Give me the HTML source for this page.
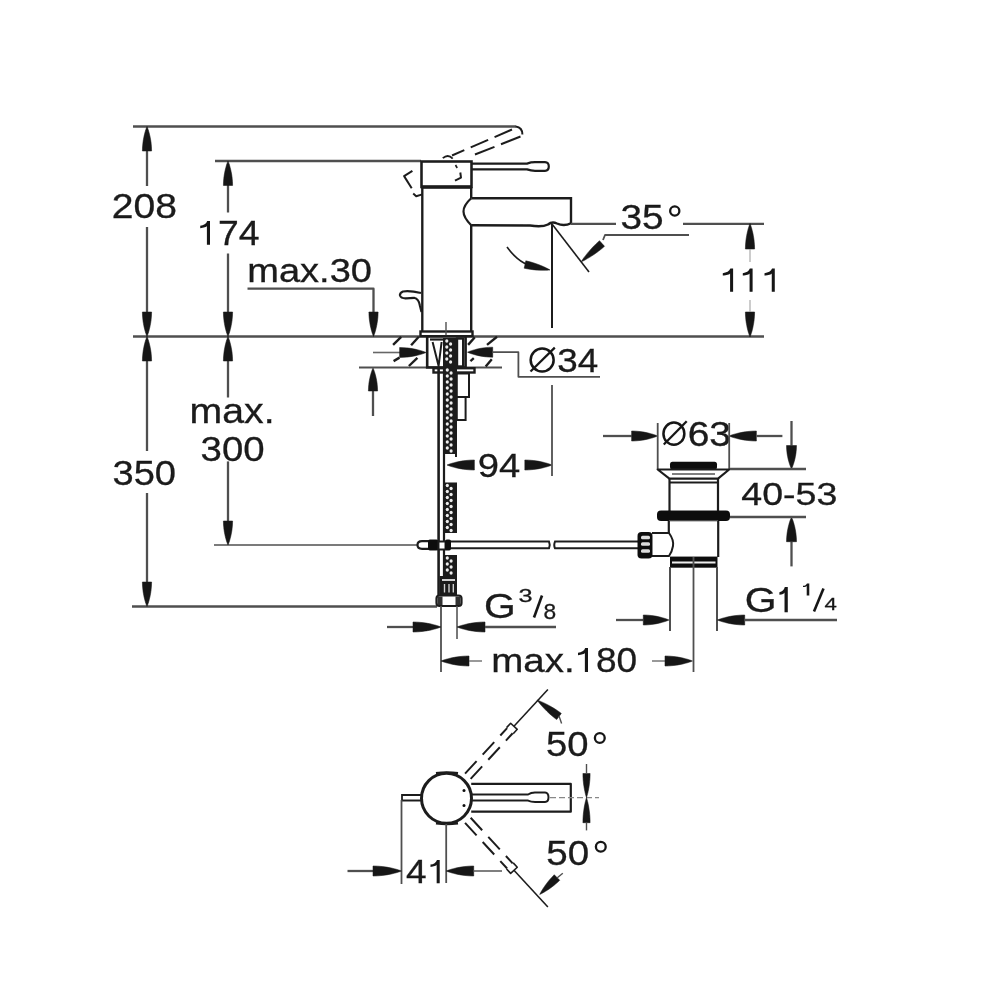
<!DOCTYPE html>
<html><head><meta charset="utf-8"><style>
html,body{margin:0;padding:0;background:#fff;}
svg{display:block;}
text{font-family:"Liberation Sans",sans-serif;}
</style></head><body>
<svg width="1000" height="1000" viewBox="0 0 1000 1000" stroke-linecap="butt">
<defs><filter id="soft" x="0" y="0" width="1000" height="1000" filterUnits="userSpaceOnUse"><feGaussianBlur stdDeviation="0.45"/></filter></defs>
<rect x="0" y="0" width="1000" height="1000" fill="#fff"/>
<g filter="url(#soft)">
<line x1="133" y1="126.5" x2="516" y2="126.5" stroke="#505050" stroke-width="2.3" />
<line x1="215" y1="161" x2="421" y2="161" stroke="#505050" stroke-width="2.3" />
<line x1="133" y1="336.5" x2="764" y2="336.5" stroke="#505050" stroke-width="2.3" />
<line x1="214" y1="545" x2="418" y2="545" stroke="#505050" stroke-width="1.5" />
<line x1="132" y1="606.5" x2="437" y2="606.5" stroke="#505050" stroke-width="2.3" />
<line x1="147" y1="130" x2="147" y2="186" stroke="#505050" stroke-width="2.3" />
<path d="M151.6,151 C151.6,139.97 148.61,130.18 147,126.5 C145.39,130.18 142.4,139.97 142.4,151 Z" fill="#141414" stroke="#141414" stroke-width="0.5" stroke-linejoin="round"/>
<line x1="147" y1="227" x2="147" y2="333" stroke="#505050" stroke-width="2.3" />
<path d="M142.4,312 C142.4,323.02 145.39,332.82 147,336.5 C148.61,332.82 151.6,323.02 151.6,312 Z" fill="#141414" stroke="#141414" stroke-width="0.5" stroke-linejoin="round"/>
<text transform="translate(111.84,218.25) scale(1.1197,1)" font-size="34.93" fill="#1a1a1a" stroke="#1a1a1a" stroke-width="0.3">208</text>
<line x1="228" y1="164" x2="228" y2="212.5" stroke="#505050" stroke-width="2.3" />
<path d="M232.6,185.5 C232.6,174.47 229.61,164.68 228,161 C226.39,164.68 223.4,174.47 223.4,185.5 Z" fill="#141414" stroke="#141414" stroke-width="0.5" stroke-linejoin="round"/>
<line x1="228" y1="253.5" x2="228" y2="333" stroke="#505050" stroke-width="2.3" />
<path d="M223.4,312 C223.4,323.02 226.39,332.82 228,336.5 C229.61,332.82 232.6,323.02 232.6,312 Z" fill="#141414" stroke="#141414" stroke-width="0.5" stroke-linejoin="round"/>
<path d="M210,244.8 L210,221 L207.21,221 C206.31,223.86 203.66,225.28 200.25,225.76 L200.25,228.14 C203.66,227.9 206.71,226.95 206.91,226 L206.91,244.8 Z" fill="#161616"/>
<text transform="translate(218.03,244.8) scale(1.0837,1)" font-size="34.49" fill="#1a1a1a" stroke="#1a1a1a" stroke-width="0.3">74</text>
<line x1="147" y1="340" x2="147" y2="451" stroke="#505050" stroke-width="2.3" />
<path d="M151.6,361 C151.6,349.98 148.61,340.18 147,336.5 C145.39,340.18 142.4,349.98 142.4,361 Z" fill="#141414" stroke="#141414" stroke-width="0.5" stroke-linejoin="round"/>
<line x1="147" y1="493" x2="147" y2="603" stroke="#505050" stroke-width="2.3" />
<path d="M142.4,582 C142.4,593.02 145.39,602.83 147,606.5 C148.61,602.83 151.6,593.02 151.6,582 Z" fill="#141414" stroke="#141414" stroke-width="0.5" stroke-linejoin="round"/>
<text transform="translate(112.48,484.65) scale(1.0822,1)" font-size="35.21" fill="#1a1a1a" stroke="#1a1a1a" stroke-width="0.3">350</text>
<line x1="228" y1="340" x2="228" y2="397.5" stroke="#505050" stroke-width="2.3" />
<path d="M232.6,361 C232.6,349.98 229.61,340.18 228,336.5 C226.39,340.18 223.4,349.98 223.4,361 Z" fill="#141414" stroke="#141414" stroke-width="0.5" stroke-linejoin="round"/>
<line x1="228" y1="461.4" x2="228" y2="542" stroke="#505050" stroke-width="2.3" />
<path d="M223.4,521 C223.4,531.8 226.39,541.4 228,545 C229.61,541.4 232.6,531.8 232.6,521 Z" fill="#141414" stroke="#141414" stroke-width="0.5" stroke-linejoin="round"/>
<text transform="translate(189.55,423.15) scale(1.1363,1)" font-size="34.55" fill="#1a1a1a" stroke="#1a1a1a" stroke-width="0.3">max.</text>
<text transform="translate(200.57,461.15) scale(1.0808,1)" font-size="35.49" fill="#1a1a1a" stroke="#1a1a1a" stroke-width="0.3">300</text>
<text transform="translate(247.28,281.87) scale(1.1639,1)" font-size="32.68" fill="#1a1a1a" stroke="#1a1a1a" stroke-width="0.3">max.30</text>
<path d="M247.5,288.7 L373.5,288.7 L373.5,330" stroke="#505050" stroke-width="2.3" fill="none" stroke-linejoin="round" />
<path d="M368.9,312 C368.9,323.02 371.89,332.82 373.5,336.5 C375.11,332.82 378.1,323.02 378.1,312 Z" fill="#141414" stroke="#141414" stroke-width="0.5" stroke-linejoin="round"/>
<line x1="373" y1="372" x2="373" y2="416" stroke="#505050" stroke-width="2.3" />
<path d="M377.6,391 C377.6,380.65 374.61,371.45 373,368 C371.39,371.45 368.4,380.65 368.4,391 Z" fill="#141414" stroke="#141414" stroke-width="0.5" stroke-linejoin="round"/>
<rect x="421.5" y="161.5" width="50" height="25.5" rx="0" stroke="#1e1e1e" stroke-width="2.6" fill="none" />
<line x1="421.5" y1="187" x2="471.5" y2="187" stroke="#1e1e1e" stroke-width="3.4" />
<path d="M471.5,163.6 L527,163.6 Q531,162.2 535,162.2 L545,162.2 Q548.8,162.4 548.8,166.5 Q548.8,170.6 545,170.8 L535,170.8 Q531,170.8 527,169.4 L471.5,169.4" stroke="#1e1e1e" stroke-width="2.2" fill="none" />
<path d="M515.7,126.5 Q522.5,127.5 522.4,134.5" stroke="#1e1e1e" stroke-width="2.0" fill="none" />
<line x1="512" y1="129.5" x2="452" y2="155.5" stroke="#1e1e1e" stroke-width="2.0" stroke-dasharray="19,7"/>
<line x1="520.5" y1="136.5" x2="470" y2="156.5" stroke="#1e1e1e" stroke-width="2.0" stroke-dasharray="21,7"/>
<path d="M442.8,158.2 Q448,153.5 452.7,158.6" stroke="#1e1e1e" stroke-width="1.8" fill="none" />
<path d="M412.4,170.8 L404.1,176.1 L411.7,188.3" stroke="#1e1e1e" stroke-width="2.0" fill="none" stroke-linejoin="round" />
<path d="M413.2,193.6 L416.2,196.3 L422.3,194.4" stroke="#1e1e1e" stroke-width="2.0" fill="none" stroke-linejoin="round" />
<path d="M460.3,172.5 L461,177.6 L455,180.7" stroke="#1e1e1e" stroke-width="2.0" fill="none" stroke-linejoin="round" />
<line x1="455.5" y1="165" x2="457.2" y2="168" stroke="#1e1e1e" stroke-width="1.6" />
<line x1="422.3" y1="187" x2="422.3" y2="331" stroke="#1e1e1e" stroke-width="2.4" />
<line x1="471.2" y1="187" x2="471.2" y2="198" stroke="#1e1e1e" stroke-width="2.4" />
<line x1="471.2" y1="225" x2="471.2" y2="331" stroke="#1e1e1e" stroke-width="2.4" />
<path d="M471.2,198.2 L571,198.2 L571,223.2 Q564,226.8 557,223.5 Q552,221 548,224.5 Q542,227.5 530,225.5 L471.2,225.2" stroke="#1e1e1e" stroke-width="2.4" fill="none" />
<path d="M471.2,198.2 C467,202 463.5,206 463.5,211.5 C463.5,217 467,221 471.2,225.2" stroke="#1e1e1e" stroke-width="2.2" fill="none" />
<path d="M421,293 Q410,290.5 403,291.5 Q399.5,293 400,295.5 Q401,298.5 406,298.3 L414,297.8 Q419,299 420,306 L421.5,312" stroke="#1e1e1e" stroke-width="2.2" fill="none" />
<rect x="420.5" y="331.5" width="52" height="4.7" rx="0" stroke="#1e1e1e" stroke-width="2.4" fill="#fff" />
<line x1="446" y1="322" x2="446" y2="336" stroke="#505050" stroke-width="1.4" />
<line x1="571" y1="223.8" x2="616" y2="223.8" stroke="#505050" stroke-width="2.3" />
<line x1="683" y1="223.8" x2="764" y2="223.8" stroke="#505050" stroke-width="2.3" />
<text transform="translate(620.45,229.15) scale(1.1029,1)" font-size="35.21" fill="#1a1a1a" stroke="#1a1a1a" stroke-width="0.3">35</text>
<circle cx="674.75" cy="211" r="4.6" stroke="#161616" stroke-width="2.3" fill="none"/>
<path d="M689,235 L605,235 L603,240" stroke="#505050" stroke-width="1.8" fill="none" stroke-linejoin="round" />
<path d="M599.49,240.65 C590.04,248.97 583.27,258.23 581,262 C585.03,260.22 595.06,254.68 604.51,246.35 Z" fill="#141414" stroke="#141414" stroke-width="0.5" stroke-linejoin="round"/>
<line x1="552" y1="224" x2="589" y2="272" stroke="#1e1e1e" stroke-width="1.6" />
<line x1="552" y1="224" x2="552" y2="328" stroke="#1e1e1e" stroke-width="2.0" />
<path d="M507,247 Q520,265 536,267" stroke="#1e1e1e" stroke-width="1.6" fill="none" />
<path d="M524.18,268.21 C535.43,270.69 545.96,270.47 550,270 C546.54,267.88 537.07,263.26 525.82,260.79 Z" fill="#141414" stroke="#141414" stroke-width="0.5" stroke-linejoin="round"/>
<path d="M754.6,249 C754.6,237.53 751.61,227.32 750,223.5 C748.39,227.32 745.4,237.53 745.4,249 Z" fill="#141414" stroke="#141414" stroke-width="0.5" stroke-linejoin="round"/>
<line x1="750" y1="249" x2="750" y2="262" stroke="#999" stroke-width="1.0" />
<path d="M745.4,312 C745.4,323.25 748.39,333.25 750,337 C751.61,333.25 754.6,323.25 754.6,312 Z" fill="#141414" stroke="#141414" stroke-width="0.5" stroke-linejoin="round"/>
<line x1="750" y1="300" x2="750" y2="312" stroke="#999" stroke-width="1.0" />
<path d="M733.1,291.8 L733.1,268.6 L730.38,268.6 C729.48,271.38 726.4,272.78 722.8,273.24 L722.8,275.56 C726.4,275.33 729.88,274.4 730.08,273.47 L730.08,291.8 Z" fill="#161616"/>
<path d="M752.6,291.8 L752.6,268.6 L749.88,268.6 C748.98,271.38 746.23,272.78 742.8,273.24 L742.8,275.56 C746.23,275.33 749.38,274.4 749.58,273.47 L749.58,291.8 Z" fill="#161616"/>
<path d="M774.8,291.8 L774.8,268.6 L772.08,268.6 C771.18,271.38 768.11,272.78 764.5,273.24 L764.5,275.56 C768.11,275.33 771.58,274.4 771.78,273.47 L771.78,291.8 Z" fill="#161616"/>
<line x1="359" y1="367.6" x2="502" y2="367.6" stroke="#505050" stroke-width="2.0" />
<line x1="393.1" y1="344.9" x2="401.2" y2="336.8" stroke="#1e1e1e" stroke-width="2.4" />
<line x1="411.1" y1="345.3" x2="418.8" y2="336.8" stroke="#1e1e1e" stroke-width="2.4" />
<line x1="393.6" y1="361.1" x2="399.5" y2="357.6" stroke="#1e1e1e" stroke-width="2.4" />
<line x1="408.9" y1="366" x2="417.4" y2="357.9" stroke="#1e1e1e" stroke-width="2.4" />
<line x1="468.1" y1="344.9" x2="474.8" y2="337.2" stroke="#1e1e1e" stroke-width="2.4" />
<line x1="487" y1="344.9" x2="497" y2="336.8" stroke="#1e1e1e" stroke-width="2.4" />
<line x1="470.4" y1="361.1" x2="473.8" y2="358.2" stroke="#1e1e1e" stroke-width="2.4" />
<line x1="485.7" y1="366.5" x2="491.8" y2="359.3" stroke="#1e1e1e" stroke-width="2.4" />
<rect x="427.2" y="336.5" width="38.4" height="30.9" rx="0" stroke="#1e1e1e" stroke-width="2.6" fill="#fff" />
<line x1="430" y1="339.5" x2="443" y2="339.5" stroke="#1e1e1e" stroke-width="2.2" />
<path d="M432.6,342 L438.6,366 L441.6,342" stroke="#1e1e1e" stroke-width="2.0" fill="none" stroke-linejoin="round" />
<rect x="443" y="338" width="14" height="29" fill="#1a1a1a"/>
<ellipse cx="446.8" cy="341" rx="1.6" ry="1.8" fill="#eeeeee"/>
<ellipse cx="450.6" cy="344" rx="1.6" ry="1.8" fill="#eeeeee"/>
<ellipse cx="446.8" cy="347" rx="1.6" ry="1.8" fill="#eeeeee"/>
<ellipse cx="450.6" cy="350" rx="1.6" ry="1.8" fill="#eeeeee"/>
<ellipse cx="446.8" cy="353" rx="1.6" ry="1.8" fill="#eeeeee"/>
<ellipse cx="450.6" cy="356" rx="1.6" ry="1.8" fill="#eeeeee"/>
<ellipse cx="446.8" cy="359" rx="1.6" ry="1.8" fill="#eeeeee"/>
<ellipse cx="450.6" cy="362" rx="1.6" ry="1.8" fill="#eeeeee"/>
<rect x="457" y="338.5" width="6.2" height="28" rx="0" stroke="#1e1e1e" stroke-width="2.4" fill="#fff" />
<line x1="373" y1="352.5" x2="400" y2="352.5" stroke="#666" stroke-width="1.6" />
<path d="M399.6,357.5 C411.48,357.5 422.04,354.25 426,352.5 C422.04,350.75 411.48,347.5 399.6,347.5 Z" fill="#141414" stroke="#141414" stroke-width="0.5" stroke-linejoin="round"/>
<path d="M492.7,347.2 C481.36,347.2 471.28,350.45 467.5,352.2 C471.28,353.95 481.36,357.2 492.7,357.2 Z" fill="#141414" stroke="#141414" stroke-width="0.5" stroke-linejoin="round"/>
<path d="M492.7,352.2 L518.4,352.2 L518.4,376.8 L600,376.8" stroke="#505050" stroke-width="1.8" fill="none" stroke-linejoin="round" />
<ellipse cx="542.15" cy="359.95" rx="11.5" ry="11.5" stroke="#161616" stroke-width="2.5" fill="none"/>
<line x1="530.5" y1="371.5" x2="554.8" y2="347.6" stroke="#161616" stroke-width="2.25"/>
<text transform="translate(557.23,372.37) scale(1.1033,1)" font-size="33.38" fill="#1a1a1a" stroke="#1a1a1a" stroke-width="0.3">34</text>
<rect x="433.5" y="368.2" width="41" height="4.3" rx="0" stroke="#1e1e1e" stroke-width="2.4" fill="#fff" />
<rect x="456.8" y="373.5" width="12.2" height="23.5" rx="0" stroke="#1e1e1e" stroke-width="2.0" fill="none" />
<rect x="456.8" y="397" width="8.8" height="23" rx="0" stroke="#1e1e1e" stroke-width="2.0" fill="none" />
<line x1="438.6" y1="367.4" x2="438.6" y2="596" stroke="#1e1e1e" stroke-width="2.6" />
<line x1="444" y1="367.4" x2="444" y2="596" stroke="#1e1e1e" stroke-width="2.2" />
<rect x="443.5" y="367" width="13.5" height="87" fill="#1a1a1a"/>
<ellipse cx="447.3" cy="370" rx="1.6" ry="1.8" fill="#eeeeee"/>
<ellipse cx="451.1" cy="373" rx="1.6" ry="1.8" fill="#eeeeee"/>
<ellipse cx="447.3" cy="376" rx="1.6" ry="1.8" fill="#eeeeee"/>
<ellipse cx="451.1" cy="379" rx="1.6" ry="1.8" fill="#eeeeee"/>
<ellipse cx="447.3" cy="382" rx="1.6" ry="1.8" fill="#eeeeee"/>
<ellipse cx="451.1" cy="385" rx="1.6" ry="1.8" fill="#eeeeee"/>
<ellipse cx="447.3" cy="388" rx="1.6" ry="1.8" fill="#eeeeee"/>
<ellipse cx="451.1" cy="391" rx="1.6" ry="1.8" fill="#eeeeee"/>
<ellipse cx="447.3" cy="394" rx="1.6" ry="1.8" fill="#eeeeee"/>
<ellipse cx="451.1" cy="397" rx="1.6" ry="1.8" fill="#eeeeee"/>
<ellipse cx="447.3" cy="400" rx="1.6" ry="1.8" fill="#eeeeee"/>
<ellipse cx="451.1" cy="403" rx="1.6" ry="1.8" fill="#eeeeee"/>
<ellipse cx="447.3" cy="406" rx="1.6" ry="1.8" fill="#eeeeee"/>
<ellipse cx="451.1" cy="409" rx="1.6" ry="1.8" fill="#eeeeee"/>
<ellipse cx="447.3" cy="412" rx="1.6" ry="1.8" fill="#eeeeee"/>
<ellipse cx="451.1" cy="415" rx="1.6" ry="1.8" fill="#eeeeee"/>
<ellipse cx="447.3" cy="418" rx="1.6" ry="1.8" fill="#eeeeee"/>
<ellipse cx="451.1" cy="421" rx="1.6" ry="1.8" fill="#eeeeee"/>
<ellipse cx="447.3" cy="424" rx="1.6" ry="1.8" fill="#eeeeee"/>
<ellipse cx="451.1" cy="427" rx="1.6" ry="1.8" fill="#eeeeee"/>
<ellipse cx="447.3" cy="430" rx="1.6" ry="1.8" fill="#eeeeee"/>
<ellipse cx="451.1" cy="433" rx="1.6" ry="1.8" fill="#eeeeee"/>
<ellipse cx="447.3" cy="436" rx="1.6" ry="1.8" fill="#eeeeee"/>
<ellipse cx="451.1" cy="439" rx="1.6" ry="1.8" fill="#eeeeee"/>
<ellipse cx="447.3" cy="442" rx="1.6" ry="1.8" fill="#eeeeee"/>
<ellipse cx="451.1" cy="445" rx="1.6" ry="1.8" fill="#eeeeee"/>
<ellipse cx="447.3" cy="448" rx="1.6" ry="1.8" fill="#eeeeee"/>
<ellipse cx="451.1" cy="451" rx="1.6" ry="1.8" fill="#eeeeee"/>
<rect x="443.5" y="482.5" width="13.5" height="50.5" fill="#1a1a1a"/>
<ellipse cx="447.3" cy="485.5" rx="1.6" ry="1.8" fill="#eeeeee"/>
<ellipse cx="451.1" cy="488.5" rx="1.6" ry="1.8" fill="#eeeeee"/>
<ellipse cx="447.3" cy="491.5" rx="1.6" ry="1.8" fill="#eeeeee"/>
<ellipse cx="451.1" cy="494.5" rx="1.6" ry="1.8" fill="#eeeeee"/>
<ellipse cx="447.3" cy="497.5" rx="1.6" ry="1.8" fill="#eeeeee"/>
<ellipse cx="451.1" cy="500.5" rx="1.6" ry="1.8" fill="#eeeeee"/>
<ellipse cx="447.3" cy="503.5" rx="1.6" ry="1.8" fill="#eeeeee"/>
<ellipse cx="451.1" cy="506.5" rx="1.6" ry="1.8" fill="#eeeeee"/>
<ellipse cx="447.3" cy="509.5" rx="1.6" ry="1.8" fill="#eeeeee"/>
<ellipse cx="451.1" cy="512.5" rx="1.6" ry="1.8" fill="#eeeeee"/>
<ellipse cx="447.3" cy="515.5" rx="1.6" ry="1.8" fill="#eeeeee"/>
<ellipse cx="451.1" cy="518.5" rx="1.6" ry="1.8" fill="#eeeeee"/>
<ellipse cx="447.3" cy="521.5" rx="1.6" ry="1.8" fill="#eeeeee"/>
<ellipse cx="451.1" cy="524.5" rx="1.6" ry="1.8" fill="#eeeeee"/>
<ellipse cx="447.3" cy="527.5" rx="1.6" ry="1.8" fill="#eeeeee"/>
<ellipse cx="451.1" cy="530.5" rx="1.6" ry="1.8" fill="#eeeeee"/>
<rect x="443.5" y="555" width="13.5" height="21" fill="#1a1a1a"/>
<ellipse cx="447.3" cy="558" rx="1.6" ry="1.8" fill="#eeeeee"/>
<ellipse cx="451.1" cy="561" rx="1.6" ry="1.8" fill="#eeeeee"/>
<ellipse cx="447.3" cy="564" rx="1.6" ry="1.8" fill="#eeeeee"/>
<ellipse cx="451.1" cy="567" rx="1.6" ry="1.8" fill="#eeeeee"/>
<ellipse cx="447.3" cy="570" rx="1.6" ry="1.8" fill="#eeeeee"/>
<ellipse cx="451.1" cy="573" rx="1.6" ry="1.8" fill="#eeeeee"/>
<line x1="456" y1="454" x2="456" y2="457" stroke="#1e1e1e" stroke-width="2" />
<rect x="439.5" y="576" width="17.5" height="19.5" rx="0" stroke="#1e1e1e" stroke-width="0" fill="#1a1a1a" />
<line x1="442" y1="580" x2="455" y2="580" stroke="#e8e8e8" stroke-width="1.8" />
<line x1="444.5" y1="584" x2="444.5" y2="592.5" stroke="#d0d0d0" stroke-width="1.4" />
<line x1="449" y1="584" x2="449" y2="592.5" stroke="#d0d0d0" stroke-width="1.4" />
<line x1="453.3" y1="584" x2="453.3" y2="592.5" stroke="#d0d0d0" stroke-width="1.4" />
<rect x="436.5" y="595.5" width="25" height="10.5" rx="3" stroke="#1e1e1e" stroke-width="2.2" fill="#fff" />
<rect x="437.5" y="596.5" width="5" height="8.5" rx="0" stroke="#1e1e1e" stroke-width="0" fill="#333" />
<rect x="455.5" y="596.5" width="5" height="8.5" rx="0" stroke="#1e1e1e" stroke-width="0" fill="#333" />
<line x1="441" y1="606" x2="441" y2="672" stroke="#505050" stroke-width="1.8" />
<line x1="457" y1="606" x2="457" y2="639" stroke="#555" stroke-width="1.6" />
<path d="M474.4,460 C462.07,460 451.11,463.25 447,465 C451.11,466.75 462.07,470 474.4,470 Z" fill="#141414" stroke="#141414" stroke-width="0.5" stroke-linejoin="round"/>
<path d="M524.8,470 C537.04,470 547.92,466.75 552,465 C547.92,463.25 537.04,460 524.8,460 Z" fill="#141414" stroke="#141414" stroke-width="0.5" stroke-linejoin="round"/>
<text transform="translate(477.78,476.67) scale(1.1530,1)" font-size="33.10" fill="#1a1a1a" stroke="#1a1a1a" stroke-width="0.3">94</text>
<line x1="552" y1="385" x2="552" y2="476" stroke="#505050" stroke-width="1.8" />
<path d="M446,541.6 L549,541.6 Q550.5,545 549,548.3 L446,548.3" stroke="#1e1e1e" stroke-width="2.0" fill="none" />
<path d="M638,541.6 L555,541.6 Q553.5,545 555,548.3 L638,548.3" stroke="#1e1e1e" stroke-width="2.0" fill="none" />
<path d="M438,541.2 L422,541.2 Q417.5,541.2 417.5,545 Q417.5,548.8 422,548.8 L438,548.8" stroke="#1e1e1e" stroke-width="2.2" fill="#fff" />
<rect x="428" y="539.5" width="10.5" height="11" rx="2" stroke="#1e1e1e" stroke-width="0" fill="#111" />
<rect x="438.5" y="541.5" width="7" height="8" rx="0" stroke="#1e1e1e" stroke-width="2.0" fill="#fff" />
<rect x="445" y="539.5" width="6" height="11" rx="2" stroke="#1e1e1e" stroke-width="0" fill="#111" />
<line x1="387" y1="627" x2="413" y2="627" stroke="#505050" stroke-width="2.3" />
<path d="M413,632 C425.6,632 436.8,628.75 441,627 C436.8,625.25 425.6,622 413,622 Z" fill="#141414" stroke="#141414" stroke-width="0.5" stroke-linejoin="round"/>
<path d="M485,622 C472.4,622 461.2,625.25 457,627 C461.2,628.75 472.4,632 485,632 Z" fill="#141414" stroke="#141414" stroke-width="0.5" stroke-linejoin="round"/>
<line x1="485" y1="627" x2="556" y2="627" stroke="#505050" stroke-width="2.3" />
<text transform="translate(483.96,618.25) scale(1.1717,1)" font-size="34.79" fill="#1a1a1a" stroke="#1a1a1a" stroke-width="0.3">G</text>
<text transform="translate(518.49,602.21) scale(1.3218,1)" font-size="19.15" fill="#1a1a1a" stroke="#1a1a1a" stroke-width="0.3">3</text>
<line x1="534" y1="617.5" x2="542" y2="595.5" stroke="#161616" stroke-width="2.6" />
<text transform="translate(543.58,618.78) scale(1.0295,1)" font-size="22.11" fill="#1a1a1a" stroke="#1a1a1a" stroke-width="0.3">8</text>
<path d="M469,656 C456.4,656 445.2,659.25 441,661 C445.2,662.75 456.4,666 469,666 Z" fill="#141414" stroke="#141414" stroke-width="0.5" stroke-linejoin="round"/>
<line x1="469" y1="661" x2="482" y2="661" stroke="#777" stroke-width="1.5" />
<text transform="translate(491.3,672.46) scale(1.1387,1)" font-size="33.82" fill="#1a1a1a" stroke="#1a1a1a" stroke-width="0.3">max.</text>
<path d="M588,672 L588,648 L585.18,648 C584.28,650.88 581.5,652.32 578,652.8 L578,655.2 C581.5,654.96 584.68,654 584.88,653.04 L584.88,672 Z" fill="#161616"/>
<text transform="translate(595.93,672.45) scale(1.0614,1)" font-size="34.93" fill="#1a1a1a" stroke="#1a1a1a" stroke-width="0.3">80</text>
<line x1="652" y1="661" x2="665" y2="661" stroke="#777" stroke-width="1.5" />
<path d="M665,666 C677.38,666 688.38,662.75 692.5,661 C688.38,659.25 677.38,656 665,656 Z" fill="#141414" stroke="#141414" stroke-width="0.5" stroke-linejoin="round"/>
<line x1="603" y1="436" x2="631.6" y2="436" stroke="#505050" stroke-width="2.3" />
<path d="M631.6,441 C643.3,441 653.7,437.75 657.6,436 C653.7,434.25 643.3,431 631.6,431 Z" fill="#141414" stroke="#141414" stroke-width="0.5" stroke-linejoin="round"/>
<path d="M756.4,431 C744.07,431 733.11,434.25 729,436 C733.11,437.75 744.07,441 756.4,441 Z" fill="#141414" stroke="#141414" stroke-width="0.5" stroke-linejoin="round"/>
<line x1="756.4" y1="436" x2="782.4" y2="436" stroke="#505050" stroke-width="2.3" />
<ellipse cx="673.9" cy="433.65" rx="10.45" ry="11.1" stroke="#161616" stroke-width="2.5" fill="none"/>
<line x1="663.8" y1="444.5" x2="686.7" y2="421.2" stroke="#161616" stroke-width="2.25"/>
<text transform="translate(687.65,445.66) scale(1.1423,1)" font-size="34.15" fill="#1a1a1a" stroke="#1a1a1a" stroke-width="0.3">63</text>
<line x1="657.7" y1="423" x2="657.7" y2="469.5" stroke="#505050" stroke-width="1.8" />
<line x1="729.2" y1="423" x2="729.2" y2="469.5" stroke="#505050" stroke-width="1.8" />
<rect x="670" y="461.7" width="47" height="7.8" rx="2.5" stroke="#1e1e1e" stroke-width="0" fill="#111" />
<path d="M657.7,469.5 L729.2,469.5 L718,478.6 L669.4,478.6 Z" stroke="#1e1e1e" stroke-width="2.2" fill="none" stroke-linejoin="round" />
<line x1="672" y1="474" x2="715" y2="474" stroke="#555" stroke-width="1.4" />
<line x1="669.5" y1="482.5" x2="718" y2="482.5" stroke="#1e1e1e" stroke-width="1.8" />
<line x1="669.5" y1="478" x2="669.5" y2="511" stroke="#1e1e1e" stroke-width="2.2" />
<line x1="718" y1="478" x2="718" y2="511" stroke="#1e1e1e" stroke-width="2.2" />
<rect x="657" y="510.5" width="73" height="10.5" rx="4" stroke="#1e1e1e" stroke-width="0" fill="#111" />
<line x1="669" y1="521" x2="718" y2="521" stroke="#888" stroke-width="1.2" />
<line x1="668.8" y1="521" x2="668.8" y2="533" stroke="#1e1e1e" stroke-width="2.2" />
<line x1="718.2" y1="521" x2="718.2" y2="557" stroke="#1e1e1e" stroke-width="2.2" />
<path d="M652,533 L669,533 Q674,540 673,546 Q672,552 669,556 L652,556" stroke="#1e1e1e" stroke-width="2.0" fill="none" />
<rect x="637.5" y="532" width="15" height="26.6" rx="4" stroke="#1e1e1e" stroke-width="0" fill="#111" />
<rect x="641" y="535.7" width="9" height="3.6" rx="1.5" stroke="#1e1e1e" stroke-width="0" fill="#ddd" />
<rect x="641" y="542.2" width="9" height="3.6" rx="1.5" stroke="#1e1e1e" stroke-width="0" fill="#ddd" />
<rect x="641" y="549.2" width="9" height="3.6" rx="1.5" stroke="#1e1e1e" stroke-width="0" fill="#ddd" />
<rect x="670" y="556.6" width="47.5" height="11.1" rx="0" stroke="#1e1e1e" stroke-width="0" fill="#111" />
<line x1="672" y1="562.5" x2="715.5" y2="562.5" stroke="#eee" stroke-width="1.8" />
<line x1="670" y1="567" x2="670" y2="631" stroke="#505050" stroke-width="2.0" />
<line x1="717" y1="567" x2="717" y2="631" stroke="#505050" stroke-width="2.0" />
<line x1="693.5" y1="557" x2="693.5" y2="672" stroke="#505050" stroke-width="1.8" />
<line x1="791.5" y1="421" x2="791.5" y2="445.5" stroke="#505050" stroke-width="2.3" />
<path d="M786.5,445.5 C786.5,456.07 789.75,465.48 791.5,469 C793.25,465.48 796.5,456.07 796.5,445.5 Z" fill="#141414" stroke="#141414" stroke-width="0.5" stroke-linejoin="round"/>
<line x1="791.5" y1="541.7" x2="791.5" y2="566.4" stroke="#505050" stroke-width="2.3" />
<path d="M796.5,541.7 C796.5,530.59 793.25,520.71 791.5,517 C789.75,520.71 786.5,530.59 786.5,541.7 Z" fill="#141414" stroke="#141414" stroke-width="0.5" stroke-linejoin="round"/>
<line x1="730" y1="469" x2="806" y2="469" stroke="#505050" stroke-width="2.3" />
<line x1="730" y1="517" x2="806" y2="517" stroke="#505050" stroke-width="2.3" />
<text transform="translate(741.26,504.98) scale(1.1820,1)" font-size="31.83" fill="#1a1a1a" stroke="#1a1a1a" stroke-width="0.3">40-53</text>
<line x1="616" y1="620" x2="643.3" y2="620" stroke="#505050" stroke-width="2.3" />
<path d="M643.3,625 C654.87,625 665.14,621.75 669,620 C665.14,618.25 654.87,615 643.3,615 Z" fill="#141414" stroke="#141414" stroke-width="0.5" stroke-linejoin="round"/>
<path d="M744.7,615 C732.41,615 721.5,618.25 717.4,620 C721.5,621.75 732.41,625 744.7,625 Z" fill="#141414" stroke="#141414" stroke-width="0.5" stroke-linejoin="round"/>
<line x1="744.7" y1="620" x2="837" y2="620" stroke="#505050" stroke-width="2.3" />
<text transform="translate(744.75,611.95) scale(1.1528,1)" font-size="35.49" fill="#1a1a1a" stroke="#1a1a1a" stroke-width="0.3">G</text>
<path d="M787.8,612.3 L787.8,587.1 L784.82,587.1 C783.92,590.12 782.34,591.64 779.4,592.14 L779.4,594.66 C782.34,594.41 784.32,593.4 784.52,592.39 L784.52,612.3 Z" fill="#161616"/>
<path d="M809.3,595.5 L809.3,583.4 L807,583.4 C806.1,584.85 805.2,585.58 803,585.82 L803,587.03 C805.2,586.91 806.5,586.42 806.7,585.94 L806.7,595.5 Z" fill="#161616"/>
<line x1="814" y1="611.5" x2="823.5" y2="588.5" stroke="#161616" stroke-width="2.6" />
<text transform="translate(824.45,609.7) scale(1.3205,1)" font-size="16.81" fill="#1a1a1a" stroke="#1a1a1a" stroke-width="0.3">4</text>
<circle cx="446.5" cy="798.3" r="25" stroke="#1e1e1e" stroke-width="3" fill="none"/>
<path d="M436,773.2 Q447,771.8 458,773.2" stroke="#1e1e1e" stroke-width="2.4" fill="none" />
<path d="M436,823.3 Q447,824.8 458,823.3" stroke="#1e1e1e" stroke-width="2.4" fill="none" />
<circle cx="464" cy="790.5" r="1.5" fill="#111"/><circle cx="464" cy="805.5" r="1.5" fill="#111"/>
<path d="M471.2,783.8 L570.8,783.8 L570.8,811.7 L471.2,811.7" stroke="#1e1e1e" stroke-width="2.2" fill="none" stroke-linejoin="round" />
<path d="M471.5,794.5 L528,794.5 Q531,792.5 535,792.5 L545,792.5 Q548.5,792.8 548.5,797.3 Q548.5,801.8 545,802 L535,802 Q531,802 528,800.6 L471.5,800.6" stroke="#1e1e1e" stroke-width="2.0" fill="none" />
<line x1="550" y1="797.6" x2="599" y2="797.6" stroke="#888" stroke-width="1.2" stroke-dasharray="6,3"/>
<path d="M421.5,795 L402,795 L402,800.5 L421.5,800.5" stroke="#1e1e1e" stroke-width="1.8" fill="none" />
<line x1="401.5" y1="800" x2="401.5" y2="884" stroke="#505050" stroke-width="1.8" />
<line x1="446.2" y1="824" x2="446.2" y2="883" stroke="#505050" stroke-width="1.8" />
<line x1="347.5" y1="871" x2="373" y2="871" stroke="#505050" stroke-width="2.3" />
<path d="M373,876 C385.82,876 397.23,872.75 401.5,871 C397.23,869.25 385.82,866 373,866 Z" fill="#141414" stroke="#141414" stroke-width="0.5" stroke-linejoin="round"/>
<path d="M473.7,866 C461.32,866 450.32,869.25 446.2,871 C450.32,872.75 461.32,876 473.7,876 Z" fill="#141414" stroke="#141414" stroke-width="0.5" stroke-linejoin="round"/>
<line x1="473.7" y1="871" x2="502" y2="871" stroke="#555" stroke-width="1.5" />
<text transform="translate(406.07,883.3) scale(1.0910,1)" font-size="33.91" fill="#1a1a1a" stroke="#1a1a1a" stroke-width="0.3">4</text>
<path d="M439.7,883.3 L439.7,859.9 L436.96,859.9 C436.06,862.71 433.72,864.11 430.5,864.58 L430.5,866.92 C433.72,866.69 436.46,865.75 436.66,864.81 L436.66,883.3 Z" fill="#161616"/>
<line x1="465.05" y1="773.68" x2="507.1" y2="728.11" stroke="#1e1e1e" stroke-width="2.0" stroke-dasharray="17,9"/>
<line x1="470.64" y1="778.83" x2="512.68" y2="733.26" stroke="#1e1e1e" stroke-width="2.0" stroke-dasharray="17,9"/>
<path d="M506.58,727.64 L510.65,723.23 L517.27,729.33 L513.2,733.74" stroke="#1e1e1e" stroke-width="1.6" fill="none" stroke-linejoin="round" />
<line x1="513.96" y1="726.28" x2="547.87" y2="689.53" stroke="#1e1e1e" stroke-width="1.6" />
<line x1="470.64" y1="817.77" x2="512.68" y2="863.34" stroke="#1e1e1e" stroke-width="2.0" stroke-dasharray="17,9"/>
<line x1="465.05" y1="822.92" x2="507.1" y2="868.49" stroke="#1e1e1e" stroke-width="2.0" stroke-dasharray="17,9"/>
<path d="M513.2,862.86 L517.27,867.27 L510.65,873.37 L506.58,868.96" stroke="#1e1e1e" stroke-width="1.6" fill="none" stroke-linejoin="round" />
<line x1="513.96" y1="870.32" x2="547.87" y2="907.07" stroke="#1e1e1e" stroke-width="1.6" />
<path d="M561.34,713.38 C551.44,705.96 541.12,701.38 537,700 C539.48,703.57 546.76,712.2 556.66,719.62 Z" fill="#141414" stroke="#141414" stroke-width="0.5" stroke-linejoin="round"/>
<line x1="559" y1="716" x2="561.6" y2="723.4" stroke="#505050" stroke-width="1.4" />
<path d="M554.27,874.72 C546.48,882.37 541.34,890.98 539.7,894.5 C543.25,892.92 551.95,887.93 559.73,880.28 Z" fill="#141414" stroke="#141414" stroke-width="0.5" stroke-linejoin="round"/>
<line x1="557" y1="878" x2="562.8" y2="873.3" stroke="#505050" stroke-width="1.4" />
<path d="M582.9,773.5 C582.9,784.35 585.24,793.99 586.5,797.6 C587.76,793.99 590.1,784.35 590.1,773.5 Z" fill="#141414" stroke="#141414" stroke-width="0.5" stroke-linejoin="round"/>
<line x1="586.5" y1="764" x2="586.5" y2="774" stroke="#505050" stroke-width="1.4" />
<path d="M590.1,822.7 C590.1,811.41 587.76,801.37 586.5,797.6 C585.24,801.37 582.9,811.41 582.9,822.7 Z" fill="#141414" stroke="#141414" stroke-width="0.5" stroke-linejoin="round"/>
<line x1="586.5" y1="822.7" x2="586.5" y2="830.4" stroke="#505050" stroke-width="1.4" />
<text transform="translate(545.97,756.15) scale(1.0973,1)" font-size="34.86" fill="#1a1a1a" stroke="#1a1a1a" stroke-width="0.3">50</text>
<circle cx="599.8" cy="738" r="4.9" stroke="#161616" stroke-width="2.3" fill="none"/>
<text transform="translate(546.36,865.05) scale(1.1035,1)" font-size="34.93" fill="#1a1a1a" stroke="#1a1a1a" stroke-width="0.3">50</text>
<circle cx="600.8" cy="846.8" r="4.9" stroke="#161616" stroke-width="2.3" fill="none"/>
</g>
</svg>
</body></html>
